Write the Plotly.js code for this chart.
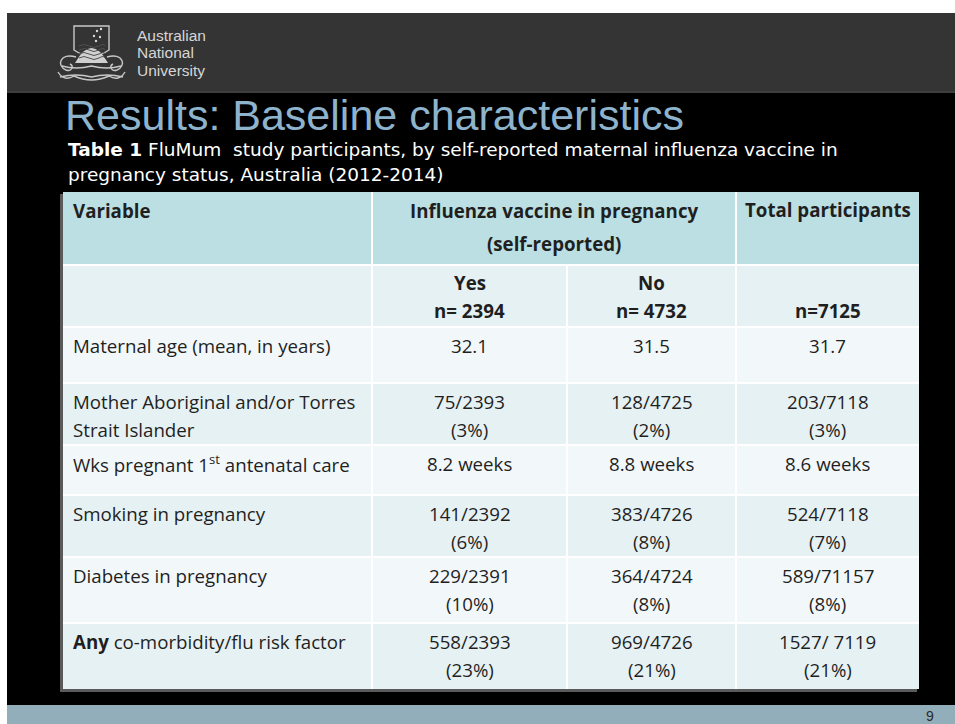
<!DOCTYPE html>
<html>
<head>
<meta charset="utf-8">
<script src="https://cdn.plot.ly/plotly-3.0.1.min.js"></script>
<style>html,body{margin:0;padding:0;background:#fff;}#chart{width:955px;height:724px;}</style>
</head>
<body>
<div id="chart"></div>
<script>
// ---- data ----
const slideTitle = "Results: Baseline characteristics";
const captionLines = ["<b>Table 1</b> FluMum  study participants, by self-reported maternal influenza vaccine in",
                      "pregnancy status, Australia (2012-2014)"];
const logoLines = ["Australian", "National", "University"];
const headerVariable = "Variable";
const headerGroup = ["Influenza vaccine in pregnancy", "(self-reported)"];
const headerTotal = "Total participants";
const groupNames = ["Yes", "No"];
const groupN = ["n= 2394", "n= 4732"];
const totalN = "n=7125";
const categories = ["Maternal age (mean, in years)",
                    "Mother Aboriginal and/or Torres\nStrait Islander",
                    "Wks pregnant 1<sup>st</sup> antenatal care",
                    "Smoking in pregnancy",
                    "Diabetes in pregnancy",
                    "<b>Any</b> co-morbidity/flu risk factor"];
const yesCount = ["32.1", "75/2393", "8.2 weeks", "141/2392", "229/2391", "558/2393"];
const yesPct   = ["", "(3%)", "", "(6%)", "(10%)", "(23%)"];
const noCount  = ["31.5", "128/4725", "8.8 weeks", "383/4726", "364/4724", "969/4726"];
const noPct    = ["", "(2%)", "", "(8%)", "(8%)", "(21%)"];
const totCount = ["31.7", "203/7118", "8.6 weeks", "524/7118", "589/71157", "1527/ 7119"];
const totPct   = ["", "(3%)", "", "(7%)", "(8%)", "(21%)"];
const pageNumber = "9";

// ---- layout constants ----
const colEdges = [63, 372, 567, 736, 919];
const rowEdges = [192, 265, 327, 383, 445, 495, 557, 623, 689];
const rowFills = ["#bcdfe3", "#e6f1f3", "#f2f8fa", "#e6f1f3", "#f2f8fa", "#e6f1f3", "#f2f8fa", "#e6f1f3"];
const textFont = {family: "'Open Sans', Lato, sans-serif", size: 18.7, color: "#1f1f1f"};
const boldFont = Object.assign({}, textFont, {weight: 700});
const lineOff = 18, lineGap = 28;

const shapes = [];
const ann = [];
function rect(x0, y0, x1, y1, fill, extra) {
  shapes.push(Object.assign({type: "rect", xref: "x", yref: "y", x0, y0, x1, y1,
    fillcolor: fill, line: {width: 0}, layer: "below"}, extra || {}));
}
function txt(x, y, text, font, xanchor) {
  ann.push({x, y, xref: "x", yref: "y", text, showarrow: false, font,
    xanchor: xanchor || "center", yanchor: "middle", align: xanchor === "left" ? "left" : "center"});
}

// slide background pieces
rect(0, 0, 955, 13, "#ffffff");
rect(0, 0, 7, 724, "#ffffff");
rect(7, 13, 955, 92, "#343434");
rect(7, 91, 955, 93, "#3e3e3e");
rect(7, 705, 955, 724, "#93aebb");

// ANU crest (drawn loosely)
const crestLine = {color: "#c8c8c8", width: 1.4};
shapes.push({type: "path", xref: "x", yref: "y", path: "M 74 26 L 109 26 L 109 50 Q 91.5 62 74 50 Z", line: crestLine, layer: "above"});
shapes.push({type: "path", xref: "x", yref: "y", path: "M 75 63 Q 91.5 33 108 63 Z", fillcolor: "#d0d0d0", line: {width: 0}, layer: "above"});
[46, 50, 54, 58].forEach(function (yy) {
  shapes.push({type: "path", xref: "x", yref: "y",
    path: "M 79 " + yy + " Q 84 " + (yy - 3) + " 89 " + yy + " T 99 " + yy + " T 105 " + yy,
    line: {color: "#505050", width: 1}, layer: "above"});
});
[[97, 31], [101, 29], [94, 36], [100, 37], [96, 41]].forEach(function (p) {
  shapes.push({type: "circle", xref: "x", yref: "y", x0: p[0] - 1.2, x1: p[0] + 1.2, y0: p[1] - 1.2, y1: p[1] + 1.2,
    fillcolor: "#d8d8d8", line: {width: 0}, layer: "above"});
});
shapes.push({type: "path", xref: "x", yref: "y", path: "M 76 57 C 60 52 56 66 66 70 C 72 72 74 66 70 64", line: crestLine, layer: "above"});
shapes.push({type: "path", xref: "x", yref: "y", path: "M 107 57 C 123 52 127 66 117 70 C 111 72 109 66 113 64", line: crestLine, layer: "above"});
shapes.push({type: "path", xref: "x", yref: "y", path: "M 58 72 Q 64 82 74 76 Q 91.5 84 109 76 Q 119 82 125 72", line: crestLine, layer: "above"});
shapes.push({type: "path", xref: "x", yref: "y", path: "M 62 66 Q 76 70 91.5 66 Q 107 70 121 66", line: crestLine, layer: "above"});
shapes.push({type: "path", xref: "x", yref: "y", path: "M 60 77 Q 76 73 91.5 77 Q 107 73 123 77", line: crestLine, layer: "above"});
logoLines.forEach(function (t, i) {
  txt(135, 35 + i * 17.5, t, {family: "'Liberation Sans', Arial, sans-serif", size: 15.5, color: "#d6d6d6"}, "left");
});

// titles
txt(63, 115, slideTitle, {family: "'Liberation Sans', Arial, sans-serif", size: 43, color: "#8db4cc"}, "left");
captionLines.forEach(function (t, i) {
  txt(66, 149 + i * 25, t, {family: "'DejaVu Sans', sans-serif", size: 18.5, color: "#ffffff"}, "left");
});

// table shadow
rect(colEdges[0] - 3, rowEdges[0] + 2, colEdges[4] - 2, rowEdges[8] + 3, "#5a5a5a");
// table cells
for (let r = 0; r < rowEdges.length - 1; r++) {
  rect(colEdges[0], rowEdges[r], colEdges[4], rowEdges[r + 1], rowFills[r]);
}
// white grid lines
const gridColor = "#ffffff";
for (let r = 1; r < rowEdges.length - 1; r++) {
  shapes.push({type: "line", xref: "x", yref: "y", x0: colEdges[0], x1: colEdges[4], y0: rowEdges[r], y1: rowEdges[r],
    line: {color: gridColor, width: 2}, layer: "below"});
}
for (let c = 1; c < colEdges.length - 1; c++) {
  const yStart = (c === 2) ? rowEdges[1] : rowEdges[0];
  shapes.push({type: "line", xref: "x", yref: "y", x0: colEdges[c], x1: colEdges[c], y0: yStart, y1: rowEdges[8],
    line: {color: gridColor, width: 2}, layer: "below"});
}

function colCenter(c) { return (colEdges[c] + colEdges[c + 1]) / 2; }
const leftX = colEdges[0] + 8;

// header row
txt(leftX, rowEdges[0] + lineOff, headerVariable, boldFont, "left");
txt((colEdges[1] + colEdges[3]) / 2, rowEdges[0] + lineOff, headerGroup[0], boldFont);
txt((colEdges[1] + colEdges[3]) / 2, rowEdges[0] + lineOff + 33, headerGroup[1], boldFont);
txt(colCenter(3), rowEdges[0] + lineOff - 1, headerTotal, boldFont);

// group row
groupNames.forEach(function (g, i) {
  txt(colCenter(1 + i), rowEdges[1] + lineOff - 1, g, boldFont);
  txt(colCenter(1 + i), rowEdges[1] + lineOff - 1 + lineGap, groupN[i], boldFont);
});
txt(colCenter(3), rowEdges[1] + lineOff - 1 + lineGap, totalN, boldFont);

// body rows
const cols = [[yesCount, yesPct], [noCount, noPct], [totCount, totPct]];
categories.forEach(function (cat, i) {
  const top = rowEdges[2 + i];
  const y1 = top + lineOff;
  cat.split("\n").forEach(function (line, k) {
    txt(leftX, y1 + k * lineGap, line, textFont, "left");
  });
  cols.forEach(function (pair, c) {
    txt(colCenter(1 + c), y1, pair[0][i], textFont);
    if (pair[1][i]) txt(colCenter(1 + c), y1 + lineGap, pair[1][i], textFont);
  });
});

// page number
txt(930, 716, pageNumber, {family: "'Liberation Sans', Arial, sans-serif", size: 14, color: "#2a2a2a"});

const layout = {
  width: 955, height: 724,
  margin: {l: 0, r: 0, t: 0, b: 0, pad: 0},
  paper_bgcolor: "#000000", plot_bgcolor: "#000000",
  showlegend: false,
  xaxis: {range: [0, 955], visible: false, fixedrange: true},
  yaxis: {range: [724, 0], visible: false, fixedrange: true},
  shapes: shapes,
  annotations: ann
};
Plotly.newPlot("chart", [{type: "scatter", x: [], y: [], hoverinfo: "skip"}], layout, {staticPlot: true, displayModeBar: false});
</script>
</body>
</html>
